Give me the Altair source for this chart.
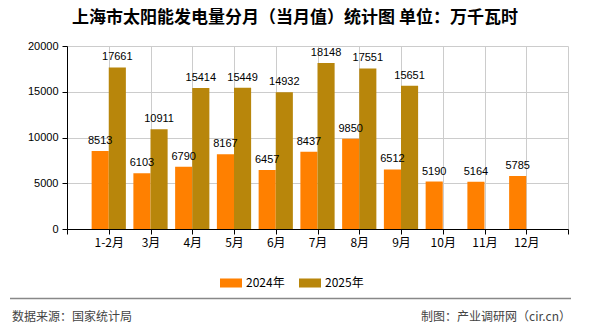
import altair as alt
import pandas as pd

months = ["1-2月", "3月", "4月", "5月", "6月", "7月", "8月", "9月", "10月", "11月", "12月"]
v2024 = [8513, 6103, 6790, 8167, 6457, 8437, 9850, 6512, 5190, 5164, 5785]
v2025 = [17661, 10911, 15414, 15449, 14932, 18148, 17551, 15651]
series = ["2024年", "2025年"]
colors = ["#FF8000", "#B8860B"]
yticks = [0, 5000, 10000, 15000, 20000]
title_text = "上海市太阳能发电量分月（当月值）统计图 单位：万千瓦时"
source_text = "数据来源：国家统计局"
credit_text = "制图：产业调研网（cir.cn）"

rows = []
for i, m in enumerate(months):
    rows.append(dict(month=m, pos=i + 1, year=series[0], value=v2024[i]))
    if i < len(v2025):
        rows.append(dict(month=m, pos=i + 1, year=series[1], value=v2025[i]))
df = pd.DataFrame(rows)

W, H = 501, 183
PL, PT = 67, 46
half = 0.41

CJK = "Noto Sans CJK SC"
NUM = "Liberation Sans"

base = alt.Chart(df).transform_calculate(
    x0=f"datum.year == '{series[0]}' ? datum.pos - {half} : datum.pos",
    x1=f"datum.year == '{series[0]}' ? datum.pos : datum.pos + {half}",
    xm=f"datum.year == '{series[0]}' ? datum.pos - {half/2} : datum.pos + {half/2}",
)

label_expr = "[''," + ",".join(f"'{m}'" for m in months) + ",''][datum.value]"
xscale = alt.Scale(domain=[0, 12], nice=False, zero=False)
yscale = alt.Scale(domain=[0, 20000], nice=False)
xaxis = alt.Axis(values=list(range(13)), labelExpr=label_expr, title=None,
                 grid=True, gridColor="#cccccc", domainColor="#000000",
                 tickColor="#000000", tickSize=5, labelPadding=3,
                 labelFont=CJK, labelFontSize=12, labelColor="#000000",
                 labelFlush=False, labelOverlap=False)
yaxis = alt.Axis(values=yticks, format="d", title=None, grid=True, gridColor="#cccccc",
                 domainColor="#000000", tickColor="#000000", tickSize=5,
                 labelPadding=4, labelFont=NUM, labelFontSize=11,
                 labelColor="#000000")

bars = base.mark_bar().encode(
    x=alt.X("x0:Q", scale=xscale, axis=xaxis),
    x2="x1:Q",
    y=alt.Y("value:Q", scale=yscale, axis=yaxis),
    y2=alt.datum(0),
    color=alt.Color("year:N", scale=alt.Scale(domain=series, range=colors),
                    legend=alt.Legend(title=None, orient="none", direction="horizontal",
                                      legendX=220 - PL, legendY=273 - PT - 1,
                                      symbolType="M-1,-0.41H1V0.41H-1Z", symbolSize=484,
                                      symbolStrokeWidth=0, labelFont=CJK, labelFontSize=12,
                                      labelColor="#000000", columnPadding=14,
                                      labelOffset=4, padding=0)),
)

labels = base.mark_text(baseline="bottom", dy=-5, font=NUM, fontSize=11,
                        color="#000000").encode(
    x=alt.X("xm:Q", scale=xscale, axis=xaxis),
    y=alt.Y("value:Q", scale=yscale, axis=yaxis),
    text=alt.Text("value:Q", format="d"),
)

one = alt.Data(values=[{}])
title = alt.Chart(one).mark_text(font=CJK, fontSize=17, fontWeight="bold",
                                 color="#000000", align="center",
                                 baseline="middle").encode(
    x=alt.value(295 - PL), y=alt.value(18 - PT), text=alt.value(title_text))

src = alt.Chart(one).mark_text(font=CJK, fontSize=12, color="#444444", align="left",
                               baseline="middle").encode(
    x=alt.value(12 - PL), y=alt.value(317 - PT), text=alt.value(source_text))

credit = alt.Chart(one).mark_text(font=CJK, fontSize=12, color="#444444", align="right",
                                  baseline="middle").encode(
    x=alt.value(571 - PL), y=alt.value(317 - PT), text=alt.value(credit_text))

rule = alt.Chart(one).mark_rule(color="#888888", strokeWidth=1.5).encode(
    x=alt.value(10 - PL), x2=alt.value(571 - PL), y=alt.value(298.5 - PT))

chart = alt.layer(bars, labels, title, src, credit, rule).properties(
    width=W, height=H,
    autosize=alt.AutoSizeParams(type="none"),
    padding={"left": PL, "top": PT, "right": 590 - PL - W, "bottom": 330 - PT - H},
    background="#ffffff",
).configure_view(stroke=None)

chart.save("out.html", embed_options={"renderer": "svg", "actions": False})
